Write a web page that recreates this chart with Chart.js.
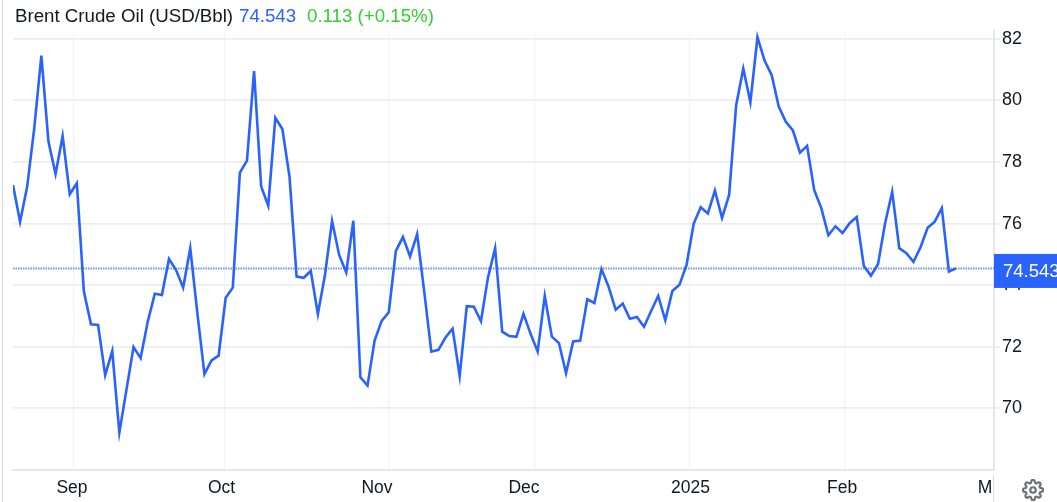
<!DOCTYPE html>
<html>
<head>
<meta charset="utf-8">
<title>Brent Crude Oil</title>
<script src="https://cdn.jsdelivr.net/npm/chart.js@4"></script>
<style>
    html, body { margin: 0; padding: 0; background: #fff; }
    body { width: 1057px; height: 502px; overflow: hidden; position: relative; font-family: "Liberation Sans", Arial, sans-serif; }
    #brentChart { position: absolute; left: 0; top: 0; }
    .head { position: absolute; top: 5px; font-size: 18.7px; line-height: 21px; white-space: nowrap; }
    #gear { position: absolute; left: 1022px; top: 479px; width: 22px; height: 22px; }
</style>
</head>
<body>
<canvas id="brentChart" width="1057" height="502"></canvas>
<span class="head" id="headTitle" style="left:15px;color:#131722"></span>
<span class="head" id="headPrice" style="left:239px;color:#2962ff"></span>
<span class="head" id="headChange" style="left:307px;color:#2fd02f"></span>
<svg id="gear" viewBox="0 0 24 24" fill="none" stroke="#6f7177" stroke-width="2.4">
    <circle cx="12" cy="12" r="3"></circle>
    <path d="M19.4 15a1.65 1.65 0 0 0 .33 1.82l.06.06a2 2 0 0 1 0 2.83 2 2 0 0 1-2.83 0l-.06-.06a1.65 1.65 0 0 0-1.82-.33 1.65 1.65 0 0 0-1 1.51V21a2 2 0 0 1-2 2 2 2 0 0 1-2-2v-.09A1.65 1.65 0 0 0 9 19.4a1.65 1.65 0 0 0-1.82.33l-.06.06a2 2 0 0 1-2.83 0 2 2 0 0 1 0-2.83l.06-.06a1.65 1.65 0 0 0 .33-1.82 1.65 1.65 0 0 0-1.51-1H3a2 2 0 0 1-2-2 2 2 0 0 1 2-2h.09A1.65 1.65 0 0 0 4.6 9a1.65 1.65 0 0 0-.33-1.82l-.06-.06a2 2 0 0 1 0-2.83 2 2 0 0 1 2.83 0l.06.06a1.65 1.65 0 0 0 1.82.33H9a1.65 1.65 0 0 0 1-1.51V3a2 2 0 0 1 2-2 2 2 0 0 1 2 2v.09a1.65 1.65 0 0 0 1 1.51 1.65 1.65 0 0 0 1.82-.33l.06-.06a2 2 0 0 1 2.83 0 2 2 0 0 1 0 2.83l-.06.06a1.65 1.65 0 0 0-.33 1.82V9a1.65 1.65 0 0 0 1.51 1H21a2 2 0 0 1 2 2 2 2 0 0 1-2 2h-.09a1.65 1.65 0 0 0-1.51 1z"></path>
</svg>
<script>
// Daily closes
const prices = [
    77.25, 76.06, 77.20, 79.10, 81.45, 78.66, 77.61, 78.84, 76.95, 77.31,
    73.79, 72.73, 72.71, 71.08, 71.86, 69.21, 70.60, 71.99, 71.63, 72.81,
    73.72, 73.68, 74.85, 74.49, 73.92, 75.20, 73.10, 71.11, 71.56, 71.71,
    73.59, 73.92, 77.65, 78.04, 80.95, 77.20, 76.58, 79.43, 79.06, 77.52,
    74.28, 74.24, 74.46, 73.06, 74.33, 76.08, 74.98, 74.41, 76.09, 71.01,
    70.74, 72.20, 72.84, 73.12, 75.11, 75.56, 74.93, 75.66, 73.79, 71.84,
    71.90, 72.30, 72.59, 71.05, 73.32, 73.30, 72.83, 74.26, 75.20, 72.49,
    72.35, 72.32, 73.07, 72.42, 71.84, 73.65, 72.33, 72.12, 71.14, 72.17,
    72.20, 73.54, 73.42, 74.52, 73.95, 73.20, 73.40, 72.91, 72.97, 72.65,
    73.16, 73.65, 72.86, 73.81, 74.01, 74.66, 75.99, 76.53, 76.33, 77.07,
    76.18, 76.93, 79.85, 81.03, 79.94, 82.05, 81.29, 80.82, 79.80, 79.30,
    79.02, 78.30, 78.52, 77.09, 76.50, 75.62, 75.91, 75.69, 76.01, 76.21,
    74.62, 74.31, 74.68, 76.01, 77.03, 75.20, 75.04, 74.76, 75.23, 75.86,
    76.06, 76.50, 74.44, 74.543
];
const lastPrice = 74.543;
const yTicks = [70, 72, 74, 76, 78, 80, 82];
const monthLines = [8.5, 29.83, 52.99, 73.58, 95.49, 117.25];
const monthLabels = ['Sep', 'Oct', 'Nov', 'Dec', '2025', 'Feb', 'M'];
const monthLabelAt = [8.32, 29.41, 51.34, 72.07, 95.56, 116.93, 137.09];

const xMax = 138.36;
const yMin = 68;
const yMax = 82.25;
const blue = '#2962ff';
const fontName = '"Liberation Sans", Arial, sans-serif';

document.getElementById('headTitle').textContent = 'Brent Crude Oil (USD/Bbl)';
document.getElementById('headPrice').textContent = '74.543';
document.getElementById('headChange').textContent = '0.113 (+0.15%)';

// Last price badge on the right axis and the thin frame lines
const overlay = {
    id: 'overlay',
    afterDraw(chart) {
        const c = chart.ctx;
        const area = chart.chartArea;
        const y = chart.scales.y.getPixelForValue(lastPrice);
        c.save();
        c.fillStyle = '#dcdcdf';
        c.fillRect(2, 0, 1, chart.height);
        c.fillRect(area.right - 1, area.bottom + 5, 1, chart.height - area.bottom - 5);
        c.fillStyle = blue;
        c.fillRect(area.right, y - 14.5, chart.width - area.right, 34);
        c.fillStyle = '#fff';
        c.font = '18.5px ' + fontName;
        c.textBaseline = 'middle';
        c.fillText(lastPrice.toFixed(3), area.right + 9, y + 3);
        c.restore();
    }
};

new Chart(document.getElementById('brentChart').getContext('2d'), {
    type: 'line',
    plugins: [overlay],
    data: {
        datasets: [
            {
                data: prices.map((p, i) => ({ x: i, y: p })),
                borderColor: blue,
                borderWidth: 2.6,
                borderJoinStyle: 'miter',
                pointRadius: 0,
                tension: 0,
                order: 1
            },
            {
                data: [{ x: 0, y: lastPrice }, { x: xMax, y: lastPrice }],
                borderColor: '#6f94ff',
                borderWidth: 2,
                borderDash: [1.5, 1],
                pointRadius: 0,
                order: 2
            }
        ]
    },
    options: {
        responsive: false,
        animation: false,
        events: [],
        parsing: false,
        layout: { padding: { left: 13, top: 31, right: 0, bottom: 0 } },
        plugins: { legend: { display: false }, tooltip: { enabled: false } },
        scales: {
            x: {
                type: 'linear',
                position: 'bottom',
                min: 0,
                max: xMax,
                afterBuildTicks: axis => { axis.ticks = monthLines.map(v => ({ value: v })); },
                afterFit: axis => { axis.height = 0; },
                ticks: { display: false },
                grid: { color: '#f0f3f8', lineWidth: 1.2, drawTicks: false },
                border: { display: false }
            },
            xNames: {
                type: 'linear',
                position: 'bottom',
                min: 0,
                max: xMax,
                afterBuildTicks: axis => { axis.ticks = monthLabelAt.map(v => ({ value: v })); },
                afterFit: axis => { axis.height = 32; },
                ticks: {
                    autoSkip: false,
                    maxRotation: 0,
                    padding: 8,
                    color: '#131722',
                    font: { family: fontName, size: 17.5 },
                    callback: (v, i) => monthLabels[i]
                },
                grid: { display: false, drawTicks: false },
                border: { display: true, color: '#e6e7ea', width: 2 }
            },
            y: {
                type: 'linear',
                position: 'right',
                min: yMin,
                max: yMax,
                afterBuildTicks: axis => { axis.ticks = yTicks.map(v => ({ value: v })); },
                afterFit: axis => { axis.width = 63; },
                ticks: {
                    padding: 2,
                    color: '#131722',
                    font: { family: fontName, size: 18 }
                },
                grid: { color: '#eeeeef', lineWidth: 1.8, tickLength: 6, tickColor: '#eeeeef' },
                border: { display: true, color: '#e6e7ea', width: 2 }
            }
        }
    }
});
</script>
</body>
</html>
